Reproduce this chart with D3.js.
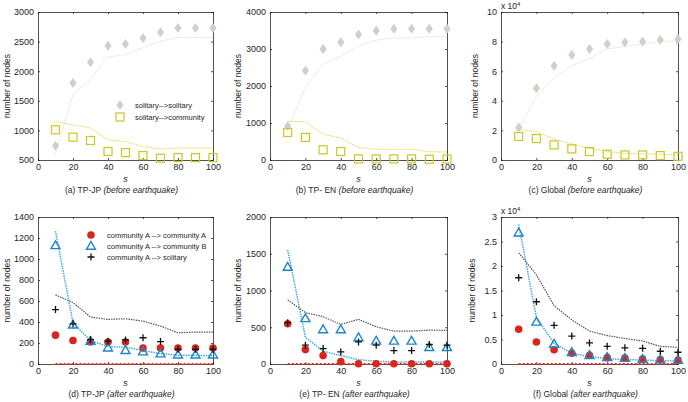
<!DOCTYPE html>
<html>
<head>
<meta charset="utf-8">
<script src="https://cdn.jsdelivr.net/npm/d3@7"></script>
<style>
  body { margin: 0; background: #fff; }
  svg { display: block; font-family: "Liberation Sans", Arial, sans-serif; }
</style>
</head>
<body>
<div class="chart"></div>
<script>
// s values, shared by every panel
const s = [10, 20, 30, 40, 50, 60, 70, 80, 90, 100];

// (a) TP-JP before earthquake
const jpBeforeSolSol    = [740, 1800, 2150, 2430, 2460, 2560, 2660, 2730, 2730, 2730];
const jpBeforeSolSolFit = [610, 1600, 1870, 2240, 2280, 2400, 2510, 2570, 2570, 2570];
const jpBeforeSolCom    = [1010, 885, 830, 645, 625, 575, 530, 540, 540, 540];
const jpBeforeSolComFit = [1150, 1095, 1040, 840, 810, 730, 685, 705, 705, 705];

// (b) TP-EN before earthquake
const enBeforeSolSol    = [910, 2420, 3000, 3180, 3390, 3490, 3545, 3545, 3545, 3545];
const enBeforeSolSolFit = [820, 1980, 2590, 2800, 3090, 3240, 3300, 3300, 3340, 3340];
const enBeforeSolCom    = [745, 610, 275, 230, 30, 30, 30, 30, 20, 25];
const enBeforeSolComFit = [1045, 1035, 700, 590, 335, 290, 290, 290, 225, 218];

// (c) Global before earthquake (x 10^4)
const glBeforeSolSol    = [2.2, 4.84, 6.36, 7.09, 7.5, 7.84, 7.95, 8.0, 8.11, 8.18];
const glBeforeSolSolFit = [2.05, 4.3, 5.57, 6.36, 6.86, 7.5, 7.68, 7.84, 8.0, 8.07];
const glBeforeSolCom    = [1.59, 1.45, 1.02, 0.75, 0.57, 0.39, 0.34, 0.34, 0.3, 0.25];
const glBeforeSolComFit = [2.05, 1.93, 1.41, 1.09, 0.8, 0.57, 0.45, 0.41, 0.39, 0.34];

// (d) TP-JP after earthquake
const jpAfterAA    = [275, 224, 210, 210, 210, 152, 152, 152, 152, 152];
const jpAfterAB    = [1130, 374, 218, 155, 131, 118, 99, 89, 89, 89];
const jpAfterAS    = [518, 383, 233, 217, 229, 250, 214, 140, 140, 140];
const jpAfterABFit = [1265, 393, 224, 166, 160, 128, 99, 83, 83, 80];
const jpAfterASFit = [658, 585, 447, 425, 431, 409, 361, 297, 304, 304];

// (e) TP-EN after earthquake
const enAfterAA    = [548, 196, 114, 32, 3, 3, 3, 3, 3, 3];
const enAfterAB    = [1320, 621, 470, 470, 361, 315, 315, 315, 228, 228];
const enAfterAS    = [562, 256, 210, 164, 301, 256, 183, 183, 265, 256];
const enAfterABFit = [1553, 365, 174, 114, 59, 37, 27, 27, 27, 27];
const enAfterASFit = [872, 699, 644, 539, 607, 507, 447, 447, 461, 457];

// (f) Global after earthquake (x 10^4)
const glAfterAA    = [0.71, 0.45, 0.29, 0.22, 0.18, 0.13, 0.12, 0.1, 0.09, 0.08];
const glAfterAB    = [2.68, 0.86, 0.41, 0.24, 0.18, 0.14, 0.12, 0.1, 0.09, 0.08];
const glAfterAS    = [1.76, 1.27, 0.79, 0.57, 0.43, 0.36, 0.33, 0.32, 0.26, 0.24];
const glAfterABFit = [2.85, 0.95, 0.42, 0.22, 0.15, 0.11, 0.09, 0.08, 0.07, 0.06];
const glAfterASFit = [2.27, 1.82, 1.19, 0.9, 0.67, 0.58, 0.52, 0.47, 0.36, 0.34];

const zeros = s.map(() => 0);

const xTicks = [0, 20, 40, 60, 80, 100];
const legendBefore = ["solitary-->solitary", "solitary-->community"];
const legendAfter = ["community A --> community A", "community A --> community B", "community A --> solitary"];

const W = 688, H = 402;
const cols = [[38, 213], [270, 447], [501, 678]];
const rows = [[12, 160], [217, 364]];

const C = {
  diamond: "#d3cfc6", greyLine: "#ececec",
  square: "#c9c724", yellowLine: "#dcdc50",
  red: "#d7261e", blue: "#1f86c6", blueLine: "#45a9dd",
  black: "#111", blackLine: "#555", zeroLine: "#e3261e",
  axis: "#262626"
};

const svg = d3.select(".chart").append("svg")
  .attr("width", W).attr("height", H)
  .attr("viewBox", [0, 0, W, H]);

const panels = [
  { col: 0, row: 0, y: [500, 3000], yTicks: d3.range(500, 3001, 500), lab: 31,
    caption: ["(a) TP-JP ", "(before earthquake)"], type: "before",
    ss: jpBeforeSolSol, ssFit: jpBeforeSolSolFit, sc: jpBeforeSolCom, scFit: jpBeforeSolComFit, legend: true },
  { col: 1, row: 0, y: [0, 4000], yTicks: d3.range(0, 4001, 1000), lab: 32,
    caption: ["(b) TP- EN ", "(before earthquake)"], type: "before",
    ss: enBeforeSolSol, ssFit: enBeforeSolSolFit, sc: enBeforeSolCom, scFit: enBeforeSolComFit },
  { col: 2, row: 0, y: [0, 10], yTicks: d3.range(0, 11, 2), lab: 26, exp: "4",
    caption: ["(c) Global ", "(before earthquake)"], type: "before",
    ss: glBeforeSolSol, ssFit: glBeforeSolSolFit, sc: glBeforeSolCom, scFit: glBeforeSolComFit },
  { col: 0, row: 1, y: [0, 1400], yTicks: d3.range(0, 1401, 200), lab: 31,
    caption: ["(d) TP-JP ", "(after earthquake)"], type: "after",
    aa: jpAfterAA, ab: jpAfterAB, as: jpAfterAS, abFit: jpAfterABFit, asFit: jpAfterASFit, legend: true },
  { col: 1, row: 1, y: [0, 2000], yTicks: d3.range(0, 2001, 500), lab: 32,
    caption: ["(e) TP- EN ", "(after earthquake)"], type: "after",
    aa: enAfterAA, ab: enAfterAB, as: enAfterAS, abFit: enAfterABFit, asFit: enAfterASFit },
  { col: 2, row: 1, y: [0, 3], yTicks: d3.range(0, 3.01, 0.5), lab: 29, exp: "4",
    caption: ["(f) Global ", "(after earthquake)"], type: "after",
    aa: glAfterAA, ab: glAfterAB, as: glAfterAS, abFit: glAfterABFit, asFit: glAfterASFit }
];

function marker(g, kind, x, y) {
  if (kind === "diamond") {
    g.append("path").attr("d", `M${x},${y-5}L${x+3.6},${y}L${x},${y+5}L${x-3.6},${y}Z`)
      .attr("fill", C.diamond);
  } else if (kind === "square") {
    g.append("rect").attr("x", x - 4).attr("y", y - 4).attr("width", 8).attr("height", 8)
      .attr("fill", "none").attr("stroke", C.square).attr("stroke-width", 1.2);
  } else if (kind === "circle") {
    g.append("circle").attr("cx", x).attr("cy", y).attr("r", 3.8).attr("fill", C.red);
  } else if (kind === "triangle") {
    g.append("path").attr("d", `M${x},${y-4.5}L${x+4.5},${y+3.3}L${x-4.5},${y+3.3}Z`)
      .attr("fill", "none").attr("stroke", C.blue).attr("stroke-width", 1.4);
  } else if (kind === "plus") {
    g.append("path").attr("d", `M${x-3.5},${y}H${x+3.5}M${x},${y-3.5}V${y+3.5}`)
      .attr("stroke", C.black).attr("stroke-width", 1.3);
  }
}

panels.forEach(p => {
  const [x0, x1] = cols[p.col], [y0, y1] = rows[p.row];
  const x = d3.scaleLinear().domain([0, 100]).range([x0, x1]);
  const y = d3.scaleLinear().domain(p.y).range([y1, y0]);
  const g = svg.append("g");

  const fmt = d => String(+d.toFixed(2));

  // axes with inward ticks, box on
  g.append("g").attr("transform", `translate(0,${y1})`)
    .call(d3.axisBottom(x).tickValues(xTicks).tickSize(-2).tickPadding(4).tickFormat(fmt));
  g.append("g").attr("transform", `translate(${x0},0)`)
    .call(d3.axisLeft(y).tickValues(p.yTicks).tickSize(-2).tickPadding(4).tickFormat(fmt));
  g.append("g").attr("transform", `translate(0,${y0})`)
    .call(d3.axisTop(x).tickValues(xTicks).tickSize(-2).tickFormat(""));
  g.append("g").attr("transform", `translate(${x1},0)`)
    .call(d3.axisRight(y).tickValues(p.yTicks).tickSize(-2).tickFormat(""));
  g.selectAll(".domain").attr("stroke", C.axis).attr("stroke-width", 0.8);
  g.selectAll(".tick line").attr("stroke", C.axis).attr("stroke-width", 0.8);
  g.selectAll(".tick text").attr("fill", C.axis).style("font-size", "9px")
    .style("font-family", "Liberation Sans, Arial, sans-serif");

  const line = d3.line().x((d, i) => x(s[i])).y(d => y(d));
  const path = (data, color, width, dash) => g.append("path").datum(data)
    .attr("d", line).attr("fill", "none").attr("stroke", color)
    .attr("stroke-width", width).attr("stroke-dasharray", dash);

  if (p.type === "before") {
    path(p.ssFit, C.greyLine, 1, null);
    path(p.scFit, C.yellowLine, 1, "1.5,1");
    p.ss.forEach((v, i) => marker(g, "diamond", x(s[i]), y(v)));
    p.sc.forEach((v, i) => marker(g, "square", x(s[i]), y(v)));
    if (p.legend) {
      const kinds = ["diamond", "square"];
      legendBefore.forEach((t, i) => {
        const ly = 105 + i * 12;
        marker(g, kinds[i], 120, ly);
        g.append("text").attr("x", 135).attr("y", ly + 2.5).text(t)
          .attr("fill", C.axis).style("font-size", "7.5px");
      });
    }
  } else {
    path(p.abFit, C.blueLine, 1.5, "1.5,1");
    path(p.asFit, C.blackLine, 1.2, "1.5,1");
    path(zeros, C.zeroLine, 2, "2,2");
    p.aa.forEach((v, i) => marker(g, "circle", x(s[i]), y(v)));
    p.ab.forEach((v, i) => marker(g, "triangle", x(s[i]), y(v)));
    p.as.forEach((v, i) => marker(g, "plus", x(s[i]), y(v)));
    if (p.legend) {
      const kinds = ["circle", "triangle", "plus"];
      legendAfter.forEach((t, i) => {
        const ly = 235 + i * 11;
        marker(g, kinds[i], 91, ly);
        g.append("text").attr("x", 107).attr("y", ly + 2.5).text(t)
          .attr("fill", C.axis).style("font-size", "7.5px");
      });
    }
  }

  // exponent label
  if (p.exp) {
    const ex = g.append("text").attr("x", x0).attr("y", y0 - 3)
      .attr("fill", C.axis).style("font-size", "8.5px");
    ex.append("tspan").text("x 10");
    ex.append("tspan").attr("dy", -3.5).style("font-size", "6px").text(p.exp);
  }

  // axis labels and caption
  g.append("text").attr("x", (x0 + x1) / 2).attr("y", y1 + 22)
    .attr("text-anchor", "middle").attr("fill", C.axis)
    .style("font-size", "9px").style("font-style", "italic").text("s");
  g.append("text")
    .attr("transform", `translate(${x0 - p.lab + 3},${(y0 + y1) / 2}) rotate(-90)`)
    .attr("text-anchor", "middle").attr("fill", C.axis)
    .style("font-size", "8.5px").text("number of nodes");
  const cap = g.append("text").attr("x", (x0 + x1) / 2 - 4).attr("y", y1 + 33)
    .attr("text-anchor", "middle").attr("fill", C.axis).style("font-size", "8.5px");
  cap.append("tspan").text(p.caption[0]);
  cap.append("tspan").style("font-style", "italic").text(p.caption[1]);
});
</script>
</body>
</html>
